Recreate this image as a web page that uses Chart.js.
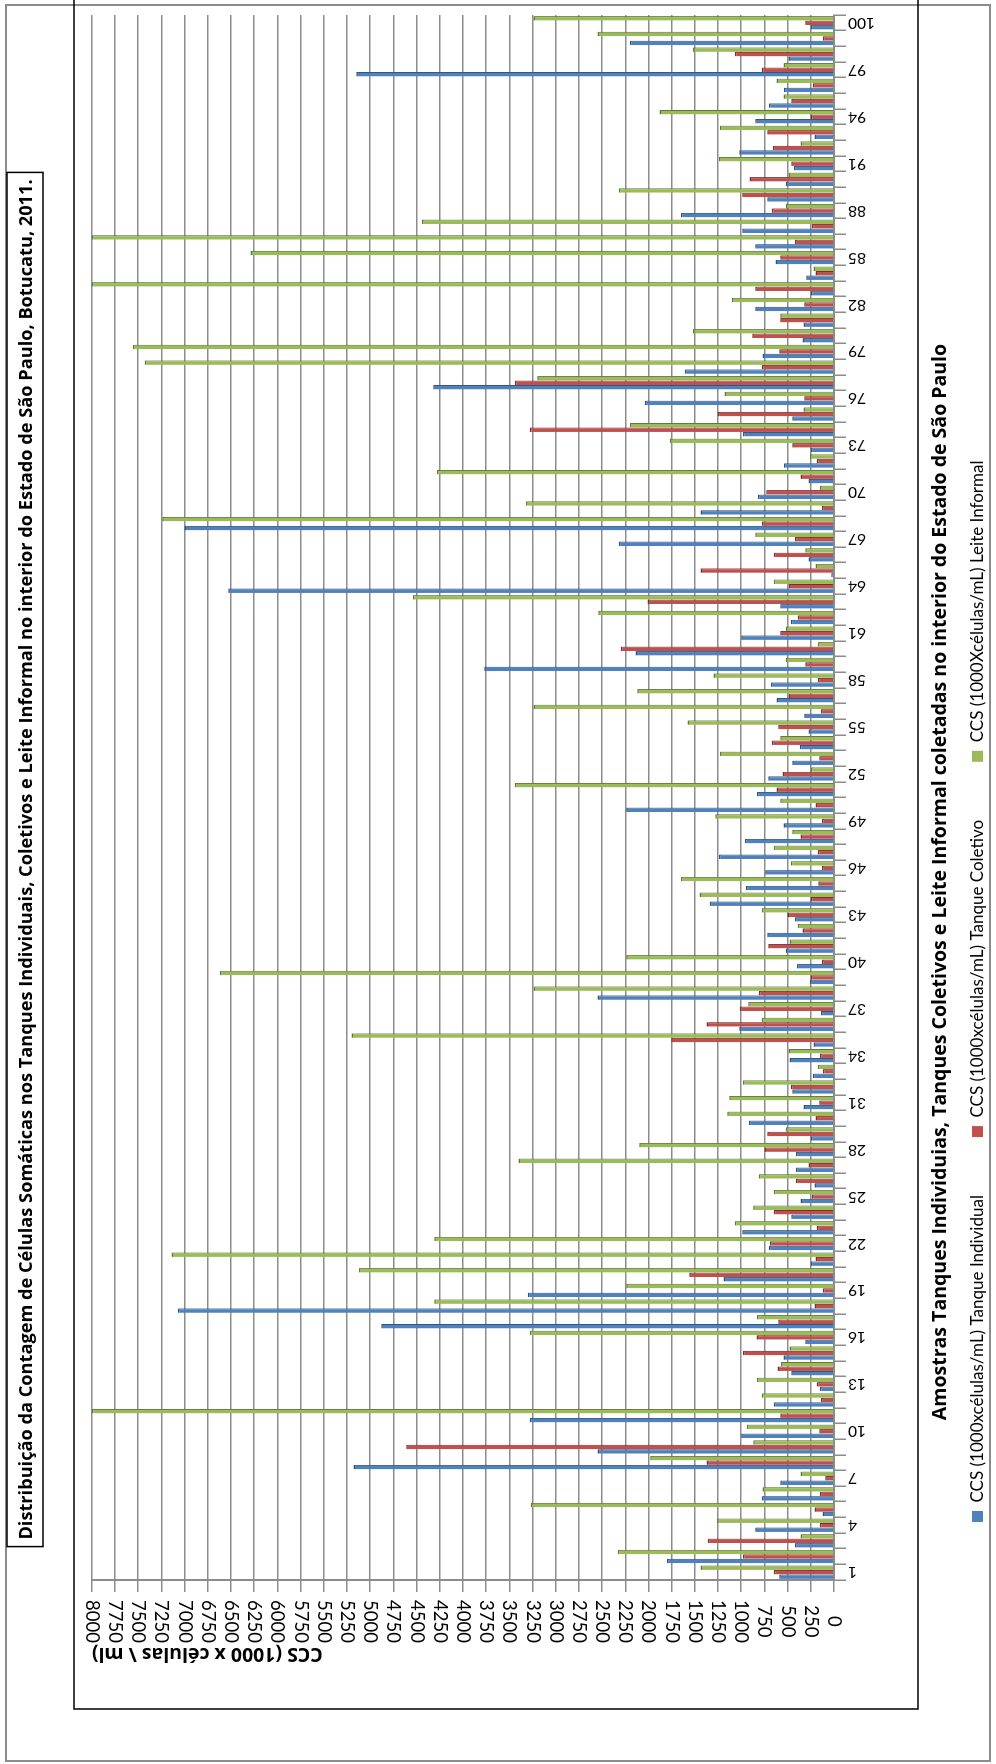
<!DOCTYPE html>
<html lang="pt-BR">
<head>
<meta charset="UTF-8">
<title>Contagem de Células Somáticas - Botucatu, 2011</title>
<style>
  html, body { margin: 0; padding: 0; background: #fff; overflow: hidden; }
  body { width: 996px; height: 1764px; position: relative; }
  /* o gráfico é desenhado deitado e girado 90° no sentido anti-horário */
  .giro {
    position: absolute; left: 0; top: 0;
    width: 1764px; height: 996px;
    transform-origin: 0 0;
    transform: translateY(1764px) rotate(-90deg);
  }
</style>
</head>
<body>
<div class="giro"><canvas id="grafico" width="1764" height="996"></canvas></div>

<script src="https://cdn.jsdelivr.net/npm/chart.js"></script>
<script>
// Amostras (categorias)
const amostras = [
  '1','2','3','4','5','6','7','8','9','10','11','12','13','14','15','16','17','18','19','20',
  '21','22','23','24','25','26','27','28','29','30','31','32','33','34','35','36','37','38','39','40',
  '41','42','43','44','45','46','47','48','49','50','51','52','53','54','55','56','57','58','59','60',
  '61','62','63','64','65','66','67','68','69','70','71','72','73','74','75','76','77','78','79','80',
  '81','82','83','84','85','86','87','88','89','90','91','92','93','94','95','96','97','98','99','100'
];

// CCS (1000 células/mL) - Tanque Individual
const tanqueIndividual = [
  590, 1800, 420, 850, 125, 780, 580, 5180, 2550, 1000,
  3280, 650, 150, 460, 545, 310, 4880, 7070, 3300, 1190,
  250, 700, 990, 460, 360, 210, 410, 410, 250, 915,
  330, 450, 230, 480, 220, 1020, 140, 2550, 260, 400,
  520, 720, 420, 1340, 950, 740, 1240, 960, 545, 2240,
  830, 710, 450, 370, 275, 320, 620, 680, 3770, 2140,
  1000, 465, 580, 6530, 30, 275, 2320, 7000, 1440, 820,
  275, 540, 250, 980, 450, 2040, 4320, 1610, 770, 340,
  330, 850, 250, 300, 630, 850, 990, 1650, 720, 520,
  430, 1020, 210, 850, 700, 540, 5150, 490, 2200, 250
];

// CCS (1000 células/mL) - Tanque Coletivo
const tanqueColetivo = [
  650, 980, 1360, 150, 210, 150, 95, 1375, 4610, 160,
  580, 140, 185, 610, 980, 835, 600, 210, 120, 1560,
  200, 690, 185, 650, 240, 410, 275, 750, 720, 200,
  160, 465, 120, 150, 1755, 1375, 1015, 810, 250, 130,
  710, 340, 500, 250, 170, 130, 175, 360, 130, 200,
  620, 555, 160, 670, 600, 140, 490, 175, 310, 2300,
  580, 390, 2010, 490, 1440, 650, 420, 780, 130, 730,
  360, 185, 450, 3280, 1250, 320, 3440, 780, 590, 880,
  580, 320, 850, 200, 580, 420, 240, 670, 990, 910,
  460, 660, 720, 250, 460, 230, 780, 1070, 120, 310
];

// CCS (1000 células/mL) - Leite Informal
const leiteInformal = [
  1440, 2330, 360, 1260, 3270, 770, 360, 1980, 870, 940,
  8000, 780, 830, 570, 480, 3280, 830, 4310, 2240, 5120,
  7140, 4310, 1070, 870, 650, 810, 3400, 2100, 520, 1150,
  1130, 980, 175, 490, 5200, 780, 925, 3240, 6620, 2240,
  480, 390, 780, 1450, 1650, 465, 650, 450, 1280, 580,
  3440, 250, 1230, 580, 1580, 3240, 2120, 1300, 520, 175,
  520, 2540, 4540, 650, 200, 310, 850, 7240, 3320, 150,
  4280, 260, 1770, 2200, 330, 1180, 3200, 7430, 7560, 1520,
  580, 1100, 8000, 220, 6290, 8000, 4440, 520, 2320, 490,
  1240, 360, 1230, 1880, 545, 620, 545, 1520, 2550, 3240
];

const titulo = 'Distribuição da Contagem de Células Somáticas nos Tanques Individuais, Coletivos e Leite Informal no interior do Estado de São Paulo, Botucatu, 2011.';
const tituloEixoX = 'Amostras Tanques Individuias, Tanques Coletivos e Leite Informal coletadas no interior do Estado de São Paulo';
const tituloEixoY = 'CCS (1000 x células \\ ml)';

const fonte = 'Lato, sans-serif';
const fonteTitulo = '"Open Sans", sans-serif';
const cinza = '#8c8c8c';
const fonteTituloGrafico = { family: fonteTitulo, size: 18.2, weight: 'bold' };

// molduras, caixa do título e título do eixo das amostras
const molduras = {
  id: 'molduras',
  beforeDraw(chart) {
    const c = chart.ctx;
    c.save();
    c.fillStyle = '#fff';
    c.fillRect(0, 0, chart.width, chart.height);
    c.strokeStyle = cinza;
    c.lineWidth = 2;
    c.strokeRect(3, 6, 1756, 984);
    c.strokeStyle = '#000';
    c.lineWidth = 1.5;
    c.beginPath();
    c.moveTo(chart.width, 74);
    c.lineTo(55, 74);
    c.lineTo(55, 918);
    c.lineTo(chart.width, 918);
    c.stroke();
    // caixa do título
    const tb = chart.titleBlock;
    c.font = 'bold ' + fonteTituloGrafico.size + 'px ' + fonteTitulo;
    const w = c.measureText(titulo).width;
    const cx = (tb.left + tb.right) / 2;
    c.fillStyle = '#fff';
    c.fillRect(cx - w / 2 - 7, 7, w + 14, 36);
    c.strokeRect(cx - w / 2 - 7, 7, w + 14, 36);
    c.restore();
  },
  afterDraw(chart) {
    const c = chart.ctx;
    c.save();
    c.font = 'bold 19.5px ' + fonteTitulo;
    c.fillStyle = '#000';
    c.textAlign = 'center';
    c.textBaseline = 'middle';
    c.fillText(tituloEixoX, chart.width / 2, 940);
    c.restore();
  }
};

const borda = { top: 1.5, right: 1, bottom: 0, left: 0 };

const ctx = document.getElementById('grafico').getContext('2d');
new Chart(ctx, {
  type: 'bar',
  data: {
    labels: amostras,
    datasets: [
      { label: 'CCS (1000xcélulas/mL) Tanque Individual', data: tanqueIndividual,
        backgroundColor: '#4F81BD', borderColor: '#2E5382', borderWidth: borda },
      { label: 'CCS (1000xcélulas/mL) Tanque Coletivo', data: tanqueColetivo,
        backgroundColor: '#C0504D', borderColor: '#7F2E2C', borderWidth: borda },
      { label: 'CCS (1000Xcélulas/mL) Leite Informal', data: leiteInformal,
        backgroundColor: '#9BBB59', borderColor: '#62773A', borderWidth: borda }
    ]
  },
  options: {
    responsive: false,
    animation: false,
    devicePixelRatio: 1,
    layout: { padding: { left: 60, right: 15, top: 0, bottom: 0 } },
    datasets: { bar: { categoryPercentage: 0.86, barPercentage: 1, borderSkipped: false } },
    plugins: {
      title: {
        display: true,
        text: titulo,
        color: '#000',
        font: fonteTituloGrafico,
        padding: { top: 16, bottom: 54 }
      },
      legend: {
        position: 'bottom',
        align: 'start',
        fullSize: false,
        labels: {
          color: '#000',
          boxWidth: 11,
          boxHeight: 11,
          padding: 58,
          font: { family: fonte, size: 17 },
          generateLabels: (chart) =>
            Chart.defaults.plugins.legend.labels.generateLabels(chart).map((l) => ({ ...l, lineWidth: 0 }))
        }
      },
      tooltip: { enabled: false }
    },
    scales: {
      x: {
        grid: { drawOnChartArea: false, tickLength: 12, color: cinza, lineWidth: 1.5 },
        border: { color: cinza, width: 2 },
        ticks: {
          autoSkip: false,
          minRotation: 90,
          maxRotation: 90,
          padding: 2,
          color: '#000',
          font: { family: fonte, size: 15.5 },
          callback: (v, i) => (i % 3 === 0 ? amostras[i] : '')
        },
        afterFit: (s) => { s.height = 77; }
      },
      y: {
        min: 0,
        max: 8000,
        grid: { color: cinza, lineWidth: 1.5, tickLength: 12 },
        border: { color: cinza, width: 2 },
        ticks: {
          stepSize: 250,
          autoSkip: false,
          minRotation: 180,
          maxRotation: 180,
          crossAlign: 'center',
          padding: 8,
          color: '#000',
          font: { family: fonte, size: 18.5 },
          callback: (v) => String(v)
        },
        title: {
          display: true,
          text: tituloEixoY,
          align: 'end',
          color: '#000',
          font: { family: fonteTitulo, size: 19.5, weight: 'bold' },
          padding: { top: 39, bottom: 0 }
        },
        afterFit: (s) => { s.width = 124; }
      }
    }
  },
  plugins: [molduras]
});
</script>
</body>
</html>
